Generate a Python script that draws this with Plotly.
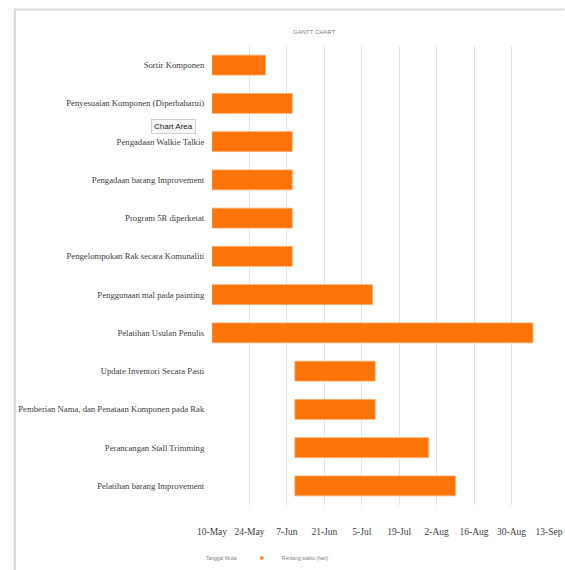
import pandas as pd
import plotly.graph_objects as go

# ---- data ----
tasks = [
    "Sortir Komponen",
    "Penyesuaian Komponen (Diperbaharui)",
    "Pengadaan Walkie Talkie",
    "Pengadaan barang Improvement",
    "Program 5R diperketat",
    "Pengelompokan Rak secara Komunaliti",
    "Penggunaan mal pada painting",
    "Pelatihan Usulan Penulis",
    "Update Inventori Secara Pasti",
    "Pemberian Nama, dan Penataan Komponen pada Rak",
    "Perancangan Stall Trimming",
    "Pelatihan barang Improvement",
]
start_dates = [
    "2021-05-10", "2021-05-10", "2021-05-10", "2021-05-10", "2021-05-10", "2021-05-10",
    "2021-05-10", "2021-05-10", "2021-06-10", "2021-06-10", "2021-06-10", "2021-06-10",
]
durations_days = [20, 30, 30, 30, 30, 30, 60, 120, 30, 30, 50, 60]

axis_min = "2021-05-10"
axis_max = "2021-09-13"
series_names = ["Tanggal Mulai", "Rentang waktu (hari)"]

ORANGE = "#FC7307"
DAY_MS = 86400000
starts = pd.to_datetime(start_dates)
amin = pd.Timestamp(axis_min)
offset_ms = [(s - amin).days * DAY_MS for s in starts]
dur_ms = [d * DAY_MS for d in durations_days]

fig = go.Figure()
fig.add_trace(go.Bar(
    name=series_names[0], y=tasks, x=offset_ms, base=[axis_min] * len(tasks),
    orientation="h", marker=dict(color="rgba(0,0,0,0)", line=dict(width=0)),
    hoverinfo="skip", showlegend=False,
))
fig.add_trace(go.Bar(
    name=series_names[1], y=tasks, x=dur_ms, base=start_dates,
    orientation="h", showlegend=False,
    marker=dict(color=ORANGE, line=dict(color="#FDA868", width=0.8)),
))
# small legend swatches (legend only)
fig.add_trace(go.Scatter(name=series_names[0], x=[None], y=[None], mode="markers",
                         marker=dict(symbol="square", size=3, color="rgba(0,0,0,0)")))
fig.add_trace(go.Scatter(name=series_names[1], x=[None], y=[None], mode="markers",
                         marker=dict(symbol="square", size=3, color=ORANGE)))

# plot area in pixels: x 212..549.5, y 46..505
L, R, T, B = 212, 549.5, 46, 505
W, H = 565, 570
def px(x):
    return (x - L) / (R - L)
def py(y):
    return (B - y) / (B - T)

fig.update_layout(
    width=W, height=H,
    margin=dict(l=L, r=W - R, t=T, b=H - B, pad=0, autoexpand=False),
    paper_bgcolor="white", plot_bgcolor="white",
    barmode="overlay", bargap=0.48,
    showlegend=True,
    legend=dict(orientation="h", x=px(250), xanchor="center", y=py(558), yanchor="middle",
                font=dict(family="Liberation Sans Narrow, Liberation Sans, sans-serif", size=5, color="#7f7f7f"),
                itemwidth=30, bgcolor="rgba(0,0,0,0)", tracegroupgap=0),
    xaxis=dict(
        type="date", range=[axis_min, axis_max], automargin=False,
        tick0=axis_min, dtick=14 * DAY_MS, tickformat="%-d-%b", tickangle=0,
        showgrid=True, gridcolor="#e4e4e4", gridwidth=1,
        zeroline=False, showline=False, ticks="outside", ticklen=18, tickcolor="rgba(0,0,0,0)",
        tickfont=dict(family="Liberation Serif, serif", size=9.5, color="#404040"),
    ),
    yaxis=dict(
        type="category", categoryorder="array", categoryarray=tasks, autorange="reversed",
        automargin=False,
        showgrid=False, zeroline=False, showline=False,
        ticks="outside", ticklen=5, tickcolor="rgba(0,0,0,0)",
        tickfont=dict(family="Liberation Serif, serif", size=8.7, color="#404040"),
    ),
    annotations=[
        dict(text="GANTT CHART", xref="paper", yref="paper", x=px(291), y=py(27),
             showarrow=False, font=dict(family="Liberation Sans Narrow, Liberation Sans, sans-serif", size=6, color="#7f7f7f")),
        dict(text="Chart Area", xref="paper", yref="paper", x=px(151), y=py(119),
             showarrow=False, font=dict(family="Liberation Sans Narrow, Liberation Sans, sans-serif", size=8, color="#222222"),
             bgcolor="#f7f7f7", bordercolor="#cfcfcf", borderwidth=1, borderpad=2),
    ],
    shapes=[
        dict(type="line", xref="paper", yref="paper", x0=px(14), x1=px(565), y0=py(9.5), y1=py(9.5),
             line=dict(color="#d9d9d9", width=2)),
        dict(type="line", xref="paper", yref="paper", x0=px(14.5), x1=px(14.5), y0=py(9), y1=py(570),
             line=dict(color="#d9d9d9", width=2)),
    ],
)

fig.write_html("out.html")
